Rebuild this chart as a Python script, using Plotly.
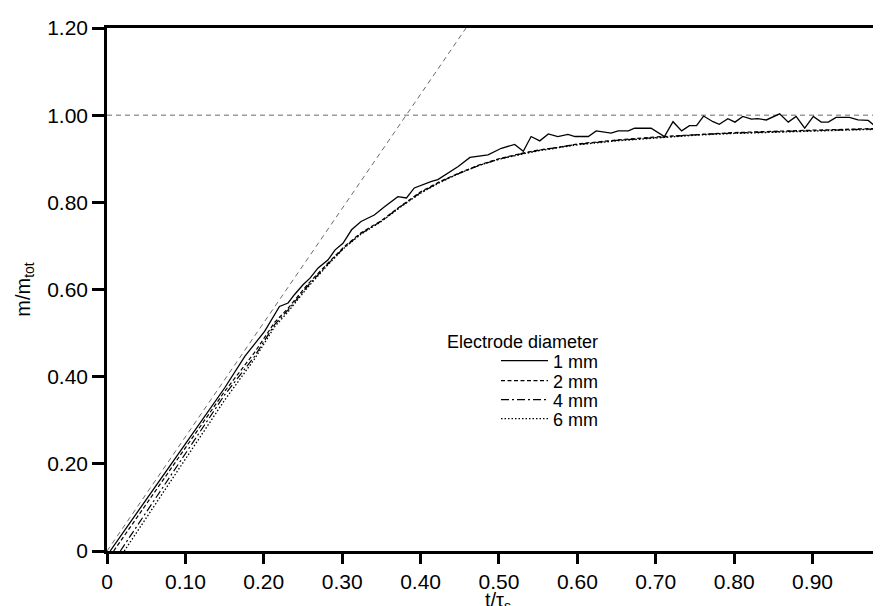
import plotly.graph_objects as go

# ---------------- data ----------------
t_1mm = [0.004, 0.025, 0.05, 0.10, 0.15, 0.176, 0.201, 0.220, 0.231, 0.239,
         0.250, 0.259, 0.269, 0.282, 0.291, 0.301, 0.312, 0.324, 0.341, 0.354,
         0.371, 0.382, 0.392, 0.414, 0.422, 0.448, 0.463, 0.486, 0.503, 0.520,
         0.531, 0.541, 0.552, 0.563, 0.575, 0.588, 0.597, 0.614, 0.624, 0.643,
         0.652, 0.665, 0.673, 0.694, 0.711, 0.722, 0.733, 0.743, 0.752, 0.761,
         0.773, 0.781, 0.792, 0.801, 0.811, 0.822, 0.830, 0.841, 0.858, 0.869,
         0.879, 0.890, 0.901, 0.911, 0.920, 0.930, 0.947, 0.958, 0.971, 0.979,
         0.996]
m_1mm = [0, 0.053, 0.118, 0.246, 0.374, 0.447, 0.504, 0.561, 0.569, 0.588,
         0.611, 0.626, 0.649, 0.668, 0.691, 0.706, 0.737, 0.756, 0.771, 0.790,
         0.813, 0.810, 0.833, 0.848, 0.852, 0.882, 0.903, 0.909, 0.924, 0.933,
         0.917, 0.951, 0.941, 0.957, 0.951, 0.956, 0.951, 0.951, 0.964, 0.959,
         0.964, 0.964, 0.970, 0.970, 0.951, 0.985, 0.964, 0.976, 0.976, 0.998,
         0.985, 0.979, 0.992, 0.984, 0.997, 0.991, 0.992, 0.989, 1.003, 0.984,
         0.997, 0.970, 0.997, 0.984, 0.984, 0.995, 0.995, 0.989, 0.988, 0.976,
         1.009]

t_common = [0.05, 0.10, 0.15, 0.188, 0.214, 0.231, 0.256, 0.282, 0.303, 0.324,
            0.35, 0.375, 0.40, 0.425, 0.45, 0.475, 0.50, 0.528, 0.55, 0.575,
            0.60, 0.65, 0.70, 0.75, 0.80, 0.85, 0.90, 0.95, 0.997]
t_2mm = [0.0085] + t_common
m_2mm = [0, 0.107, 0.237, 0.366, 0.455, 0.525, 0.557, 0.612, 0.661, 0.699, 0.730,
         0.758, 0.792, 0.824, 0.848, 0.868, 0.886, 0.900, 0.912, 0.920, 0.926,
         0.934, 0.943, 0.950, 0.955, 0.960, 0.963, 0.966, 0.968, 0.970]
t_4mm = [0.017] + t_common
m_4mm = [0, 0.089, 0.224, 0.358, 0.446, 0.520, 0.553, 0.608, 0.659, 0.697, 0.728,
         0.757, 0.791, 0.822, 0.847, 0.867, 0.885, 0.899, 0.911, 0.919, 0.926,
         0.933, 0.942, 0.949, 0.955, 0.959, 0.962, 0.965, 0.967, 0.969]
t_6mm = [0.022] + t_common
m_6mm = [0, 0.076, 0.211, 0.346, 0.440, 0.515, 0.549, 0.605, 0.657, 0.696, 0.727,
         0.756, 0.790, 0.821, 0.846, 0.867, 0.885, 0.899, 0.910, 0.918, 0.925,
         0.932, 0.941, 0.948, 0.954, 0.958, 0.961, 0.964, 0.966, 0.968]

# initial-slope tangent and saturation level
tangent_t = [0.0, 0.458]
tangent_m = [0.0, 1.2]
level_t = [0.0, 0.9975]
level_m = [1.0, 1.0]

series_names = ["1 mm", "2 mm", "4 mm", "6 mm"]
x_ticks = [0, 0.1, 0.2, 0.3, 0.4, 0.5, 0.6, 0.7, 0.8, 0.9]
x_labels = ["0", "0.10", "0.20", "0.30", "0.40", "0.50", "0.60", "0.70", "0.80", "0.90"]
y_ticks = [0, 0.2, 0.4, 0.6, 0.8, 1.0, 1.2]
y_labels = ["0", "0.20", "0.40", "0.60", "0.80", "1.00", "1.20"]

FONT = "Liberation Sans, Arial, Helvetica, sans-serif"
W, H = 881, 606
ML, MR, MT, MB = 99, 0, 20, 63

fig = go.Figure()

fig.add_trace(go.Scatter(x=tangent_t, y=tangent_m, mode="lines", showlegend=False,
                         line=dict(color="#444", width=0.8, dash="5px,4px"), hoverinfo="skip"))
fig.add_trace(go.Scatter(x=level_t, y=level_m, mode="lines", showlegend=False,
                         line=dict(color="#444", width=0.8, dash="5px,4px"), hoverinfo="skip"))

styles = [("solid", 1.3), ("4px,2.5px", 1.2), ("8px,3px,2px,3px", 1.2), ("1.5px,2px", 1.3)]
data = [(t_1mm, m_1mm), (t_2mm, m_2mm), (t_4mm, m_4mm), (t_6mm, m_6mm)]
legends = ["legend", "legend2", "legend3", "legend4"]
for (tx, my), name, (dash, w), lg in zip(data, series_names, styles, legends):
    fig.add_trace(go.Scatter(x=tx, y=my, mode="lines", name=name, legend=lg,
                             line=dict(color="black", width=w, dash=dash)))

plot_h = H - MT - MB
def py(Y):
    return (H - MB - Y) / plot_h

leg_common = dict(xanchor="left", yanchor="middle", bgcolor="rgba(0,0,0,0)",
                  font=dict(family=FONT, size=18, color="black"),
                  itemwidth=47, borderwidth=0)
row_y = [353, 373, 392, 411]
leg_x = (488 - ML) / (W - ML - MR)
layout_legends = {}
for lg, Y in zip(legends, row_y):
    layout_legends[lg] = dict(x=leg_x, y=py(Y), **leg_common)

fig.update_layout(
    width=W, height=H,
    margin=dict(l=ML, r=MR, t=MT, b=MB),
    paper_bgcolor="white", plot_bgcolor="white",
    font=dict(family=FONT, size=21, color="black"),
    showlegend=True,
    xaxis=dict(range=[0, 0.9975], tickvals=x_ticks, ticktext=x_labels,
               showline=True, linecolor="black", linewidth=2.5, mirror=True,
               ticks="outside", ticklen=10, tickwidth=2.5, tickcolor="black",
               showgrid=False, zeroline=False,
               title=dict(text="t/τ<sub>s</sub>", standoff=3, font=dict(size=20))),
    yaxis=dict(range=[0, 1.2], tickvals=y_ticks, ticktext=y_labels,
               showline=True, linecolor="black", linewidth=2.5,
               ticks="outside", ticklen=12, tickwidth=2.5, tickcolor="black",
               showgrid=False, zeroline=False,
               title=dict(text="m/m<sub>tot</sub>", standoff=12, font=dict(size=20))),
    annotations=[dict(text="Electrode diameter", x=(437 - ML) / (W - ML - MR), y=py(334),
                      xref="paper", yref="paper", xanchor="left", yanchor="middle",
                      showarrow=False, font=dict(family=FONT, size=18, color="black"))],
    **layout_legends,
)

fig.write_html("out.html")
